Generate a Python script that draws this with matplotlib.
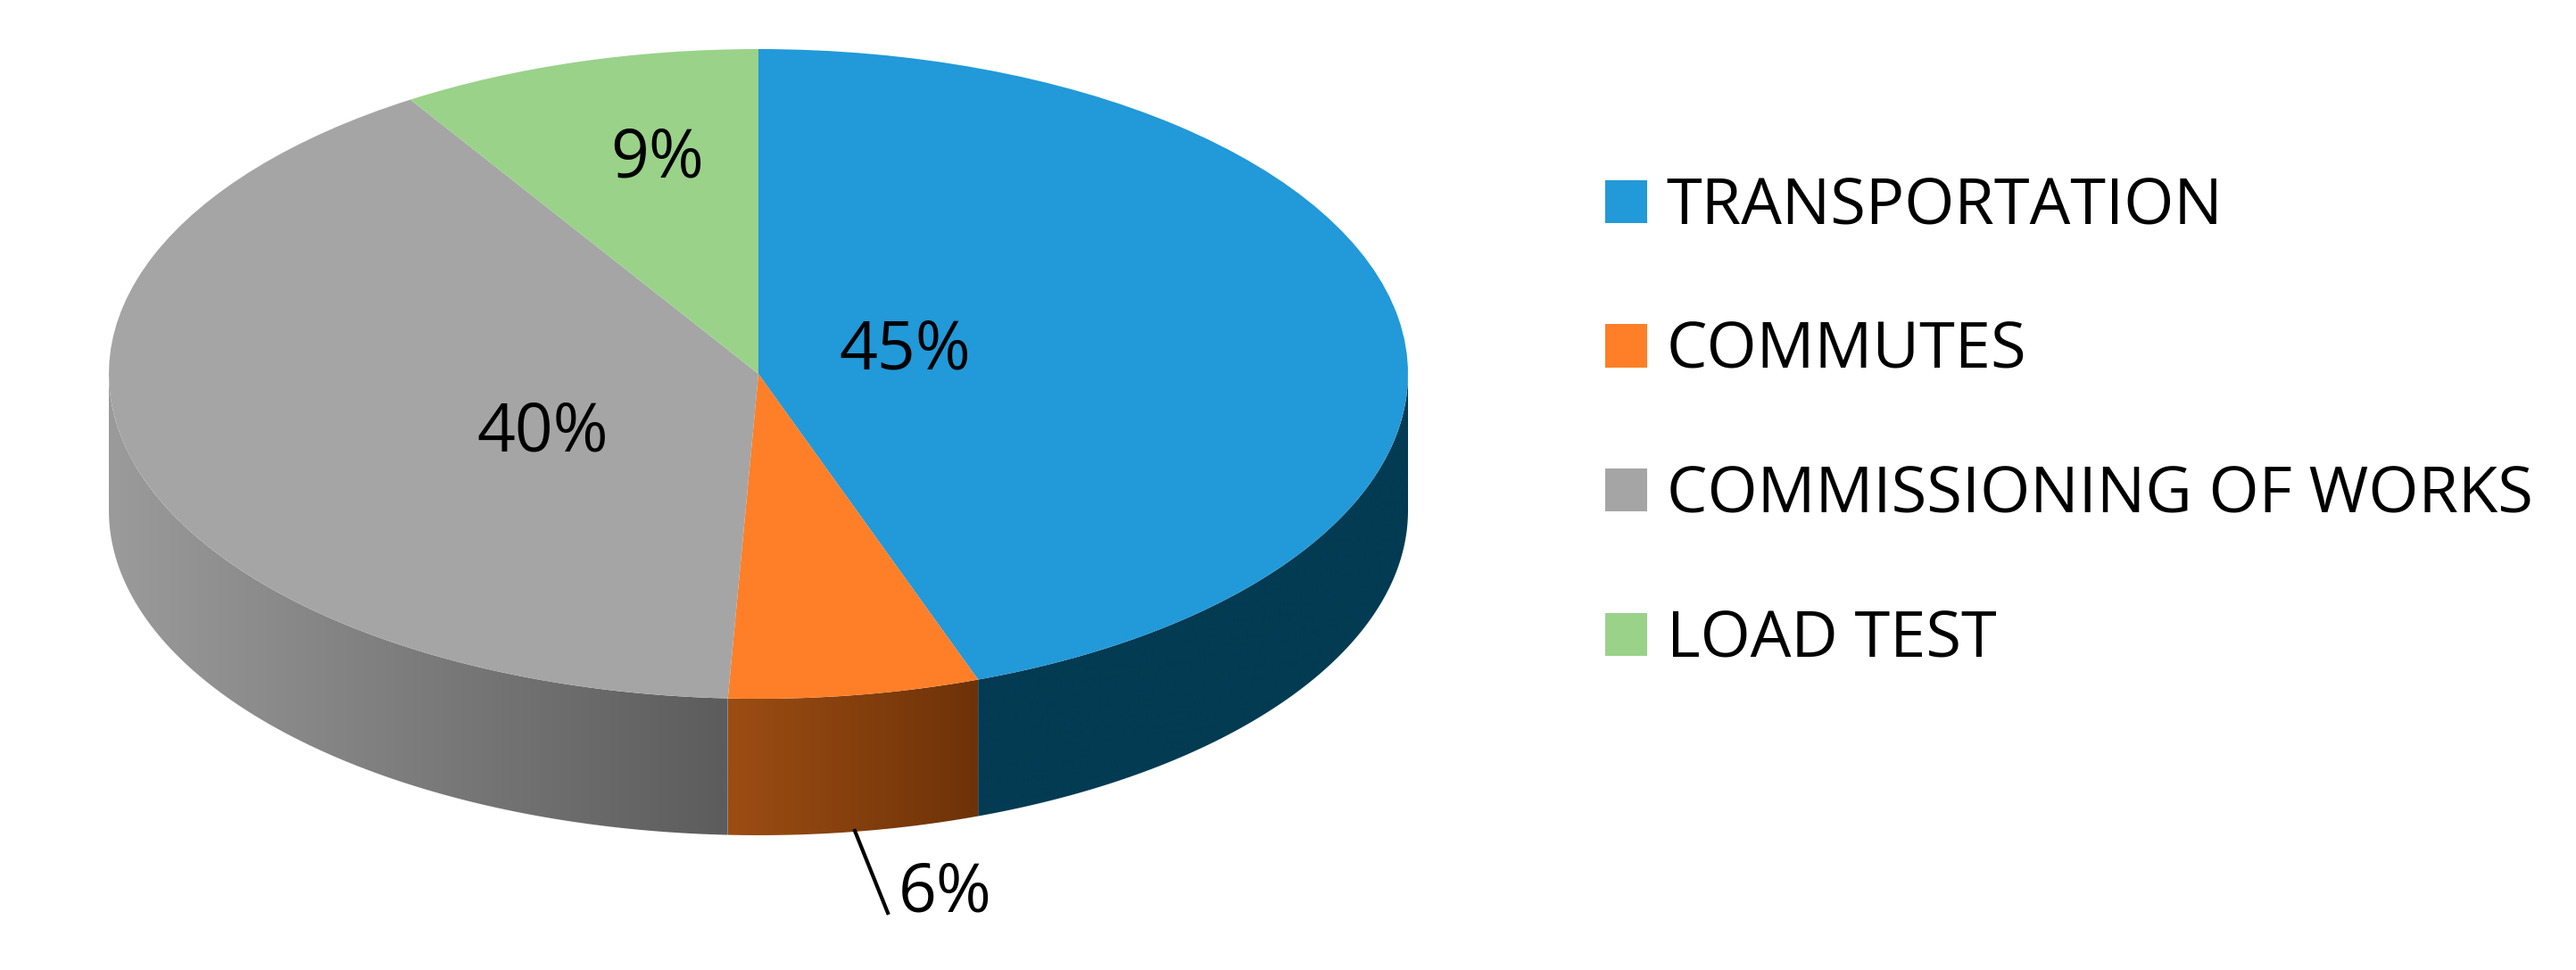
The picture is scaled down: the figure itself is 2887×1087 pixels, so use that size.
import numpy as np
import matplotlib
matplotlib.use("Agg")
import matplotlib.pyplot as plt
from matplotlib.colors import LinearSegmentedColormap
from matplotlib.patches import Polygon
from matplotlib.transforms import Affine2D

categories = ["TRANSPORTATION", "COMMUTES", "COMMISSIONING OF WORKS", "LOAD TEST"]
shares = [44.51, 6.24, 40.25, 9.0]
top_colors = ["#2299d8", "#fe7f27", "#a5a5a5", "#9ad28a"]
side_left = ["#033b53", "#9c4d13", "#9b9b9b", "#9ad28a"]
side_right = ["#033b53", "#6e3208", "#5c5c5c", "#9ad28a"]
label_px = [(1014, 394), (1059, 1002), (608, 486), (737, 179)]

W, H = 2887, 1087
FONT = "Open Sans"
FS_LABEL = 54
FS_LEGEND = 52
fig = plt.figure(figsize=(W / 100, H / 100), dpi=100, facecolor="white")

left, right, top, bottom = 122, 1578, 55, 783
depth_px = 153
ry_px = (bottom - top) / 2
depth = depth_px / ry_px
ax = fig.add_axes([left / W, (H - bottom - depth_px) / H,
                   (right - left) / W, (bottom - top + depth_px) / H])

wedges, _, autotexts = ax.pie(shares, colors=top_colors, startangle=90, counterclock=False,
                              radius=1, autopct="%.0f%%",
                              wedgeprops=dict(linewidth=0),
                              textprops=dict(fontsize=FS_LABEL, family=FONT, color="black"))
ax.set_aspect("auto")

edges = np.cumsum([0] + shares) / sum(shares) * 360.0
for i in range(len(shares)):
    a = max(edges[i], 90.0)
    b = min(edges[i + 1], 270.0)
    if a >= b:
        continue
    t = np.radians(np.linspace(a, b, 200))
    x, y = np.sin(t), np.cos(t)
    verts = np.vstack([np.c_[x, y], np.c_[x[::-1], y[::-1] - depth]])
    poly = Polygon(verts, closed=True, facecolor="none", edgecolor="none", transform=ax.transData)
    ax.add_patch(poly)
    cmap = LinearSegmentedColormap.from_list("s", [side_left[i], side_right[i]])
    xl, xr = x.min(), x.max()
    im = ax.imshow(np.linspace(0, 1, 256)[None, :], cmap=cmap, aspect="auto",
                   extent=(xl, xr, -1 - depth, 1), zorder=0.5, interpolation="bilinear")
    im.set_clip_path(poly)
ax.set_xlim(-1, 1)
ax.set_ylim(-1 - depth, 1)
ax.set_axis_off()

px = Affine2D().scale(1, -1).translate(0, H)
for txt, pos in zip(autotexts, label_px):
    txt.set_transform(px)
    txt.set_position(pos)
    txt.set_ha("center")
    txt.set_va("center")
    txt.set_clip_on(False)
    txt.set_zorder(5)

fig.add_artist(plt.Line2D([958, 995], [931, 1023], color="black", lw=3, transform=px))

fig.legend(handles=wedges, labels=categories, loc="center left",
           bbox_to_anchor=(1799 / W, (H - 475) / H), frameon=False, borderpad=0, borderaxespad=0,
           prop=dict(family=FONT, size=FS_LEGEND), handlelength=0.65, handleheight=0.65,
           handletextpad=0.3, labelspacing=1.25, labelcolor="black")

fig.savefig("out.png", dpi=100, facecolor="white")
